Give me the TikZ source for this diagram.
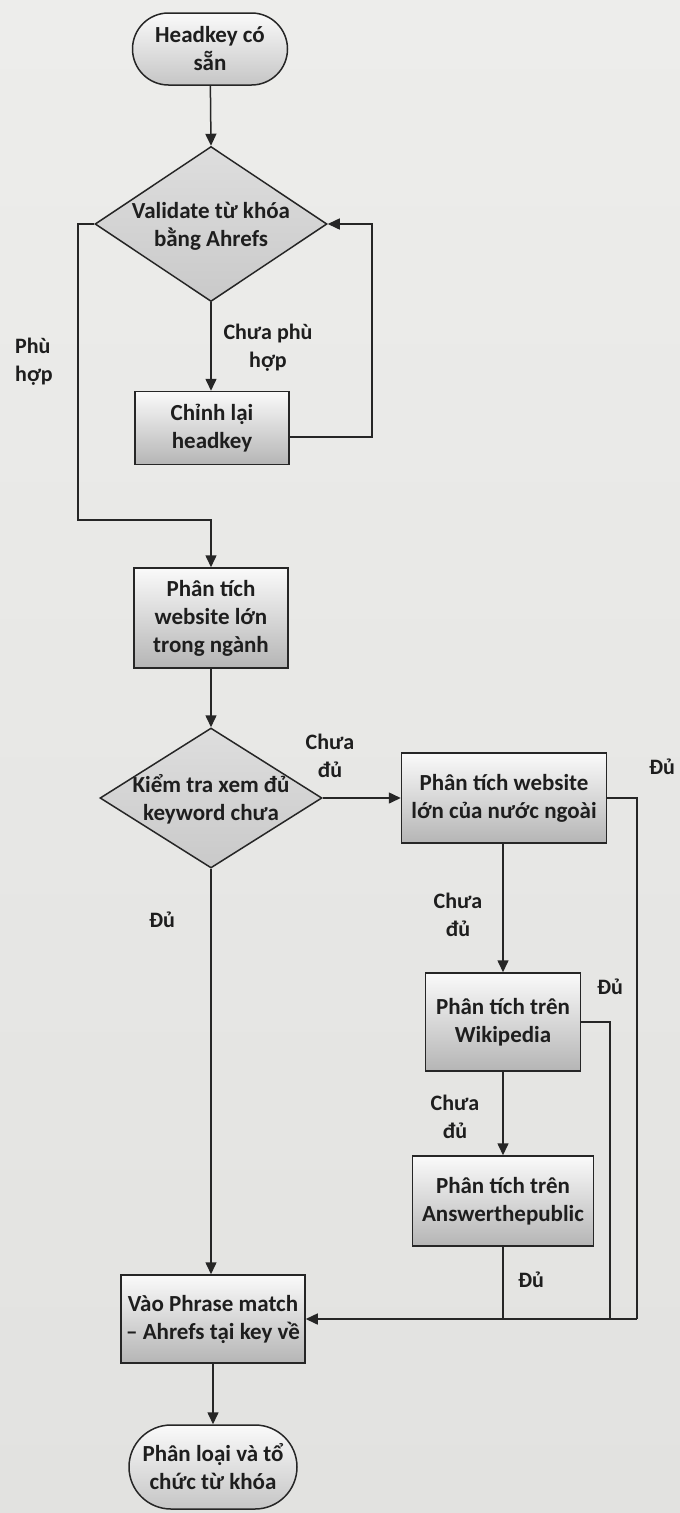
\documentclass[tikz,border=0pt]{standalone}
\usepackage{fontspec}
\setmainfont{Carlito}
\usetikzlibrary{shapes.geometric,shapes.misc,arrows.meta}
\definecolor{bgtop}{HTML}{EDEDEB}
\definecolor{bgbot}{HTML}{E2E2E0}
\definecolor{ink}{HTML}{1E1E1E}
\definecolor{ln}{HTML}{262626}
\tikzset{
  base/.style={draw=ln, line width=1.5pt, text=ink, font=\fontsize{23}{28}\selectfont\bfseries, align=center, inner sep=0pt},
  boxnode/.style={base, rectangle, top color=white!96!gray, bottom color=gray!58},
  termnode/.style={base, rounded rectangle, top color=white!96!gray, bottom color=gray!45},
  dianode/.style={base, diamond, top color=gray!26, bottom color=gray!42},
  txt/.style={text=ink, font=\fontsize{23}{28}\selectfont\bfseries, align=center, inner sep=0pt},
  lbl/.style={text=ink, font=\fontsize{22}{28}\selectfont\bfseries, align=center, inner sep=0pt},
  conn/.style={draw=ln, line width=1.5pt},
  arr/.style={conn, -{Triangle[width=11pt,length=12pt]}}
}
\begin{document}
\begin{tikzpicture}[x=1pt,y=-1pt]
\useasboundingbox (0,0) rectangle (680,1513);
\shade[top color=bgtop, bottom color=bgbot] (0,0) rectangle (680,1513);

% nodes
\node[termnode, minimum width=155pt, minimum height=72pt] (start) at (210,49) {Headkey có\\sẵn};
\node[dianode, minimum width=232pt, minimum height=155pt] (d1) at (211,224) {};
\node[txt] (d1t) at (211,226) {Validate từ khóa\\bằng Ahrefs};
\node[boxnode, minimum width=154pt, minimum height=73pt] (chinh) at (212,428) {Chỉnh lại\\headkey};
\node[boxnode, minimum width=154pt, minimum height=100pt] (pt1) at (211,618) {Phân tích\\website lớn\\trong ngành};
\node[dianode, minimum width=222pt, minimum height=140pt] (d2) at (211,798) {};
\node[txt] (d2t) at (211,799) {Kiểm tra xem đủ\\keyword chưa};
\node[boxnode, minimum width=205pt, minimum height=90pt] (nn) at (504,798) {Phân tích website\\lớn của nước ngoài};
\node[boxnode, minimum width=155pt, minimum height=98pt] (wk) at (503,1022) {Phân tích trên\\Wikipedia};
\node[boxnode, minimum width=181pt, minimum height=90pt] (ans) at (503,1201) {Phân tích trên\\Answerthepublic};
\node[boxnode, minimum width=184pt, minimum height=88pt] (ph) at (213,1319) {Vào Phrase match\\– Ahrefs tại key về};
\node[termnode, minimum width=168pt, minimum height=84pt] (end) at (213,1467) {Phân loại và tổ\\chức từ khóa};

% coordinates
\coordinate (lc) at (78,520);
\coordinate (r1) at (637,1319);
\coordinate (r2) at (610,1319);
\coordinate (r3) at (503,1319);
\coordinate (loopx) at (372,437);

% connectors
\draw[arr] (start) -- (d1.north);
\draw[arr] (d1.south) -- (d1.south |- chinh.north);
\draw[arr] ([yshift=-9pt]chinh.east) -| (loopx |- d1.east) -- (d1.east);
\draw[arr] (d1.west) -| (lc) -| (pt1.north);
\draw[arr] (pt1.south) -- (d2.north);
\draw[arr] (d2.east) -- (nn.west);
\draw[arr] (d2.south) -- (d2.south |- ph.north);
\draw[arr] (nn.south -| wk.north) -- (wk.north);
\draw[arr] (wk.south) -- (ans.north);
\draw[conn] (nn.east) -| (r1);
\draw[arr] (r1) -- (ph.east);
\draw[conn] (wk.east) -| (r2);
\draw[conn] (ans.south) -- (r3);
\draw[arr] (ph.south) -- (end.north);

% labels
\node[lbl] (l1) at (268,348) {Chưa phù\\hợp};
\node[lbl, anchor=west, align=left] (l2) at (15,362) {Phù\\hợp};
\node[lbl] (l3) at (330,756) {Chưa\\đủ};
\node[lbl] (l4) at (662,767) {Đủ};
\node[lbl] (l5) at (162,920) {Đủ};
\node[lbl] (l6) at (458,915) {Chưa\\đủ};
\node[lbl] (l7) at (610,987) {Đủ};
\node[lbl] (l8) at (455,1117) {Chưa\\đủ};
\node[lbl] (l9) at (531,1280) {Đủ};
\end{tikzpicture}
\end{document}
